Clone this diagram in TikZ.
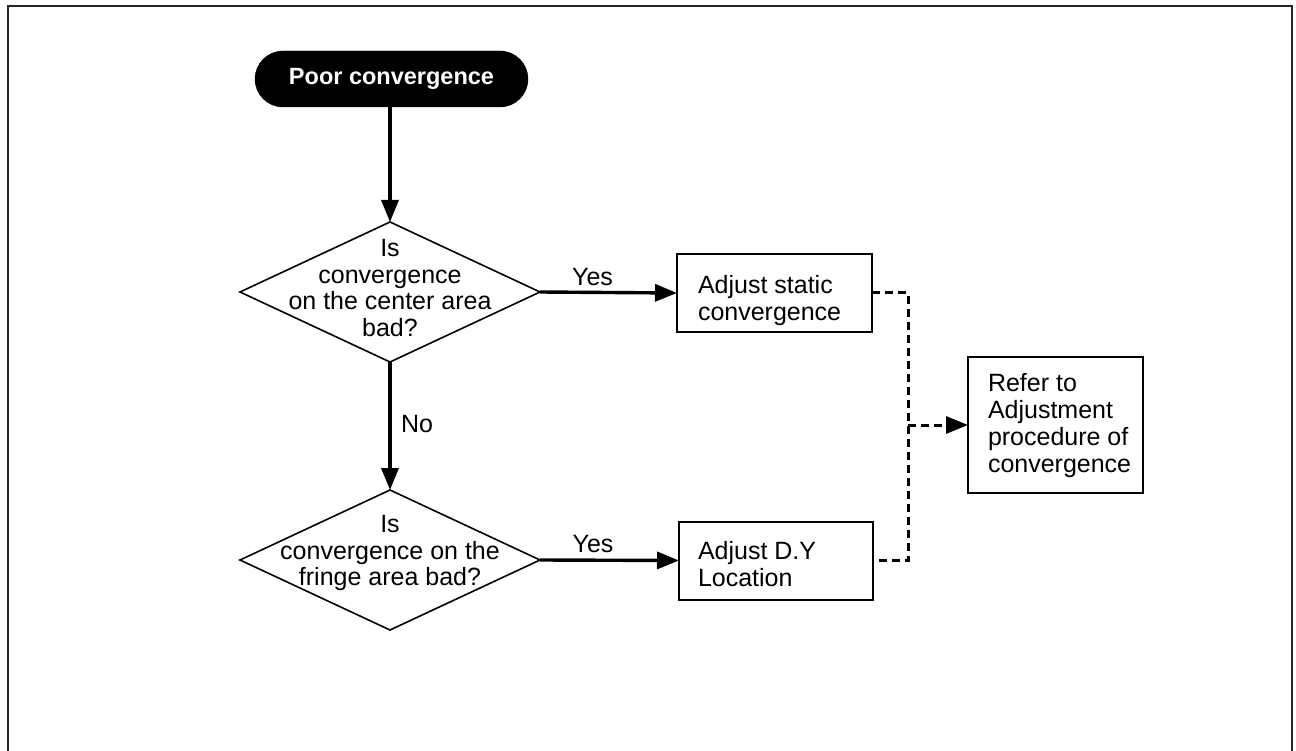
\documentclass[tikz,border=0pt]{standalone}
\usepackage{fontspec}
\setmainfont{Liberation Sans}
\usetikzlibrary{shapes.geometric,arrows.meta}
\begin{document}
\begin{tikzpicture}[x=1pt,y=-1pt,
  every node/.style={font=\fontsize{25}{26.8}\selectfont, inner sep=0pt, outer sep=0pt},
  term/.style={draw=black, fill=black, rounded corners=28pt, minimum width=273pt, minimum height=56pt, text=white, font=\fontsize{23.5}{26}\selectfont\bfseries},
  decision/.style={diamond, draw=black, line width=1.6pt, minimum width=300pt, minimum height=140pt},
  txt/.style={align=center},
  boxtxt/.style={align=left, anchor=west},
  procbox/.style={draw=black, line width=2pt, minimum width=195pt, minimum height=78pt},
  flow/.style={line width=3.4pt, -{Triangle[length=22pt,width=17pt]}},
  dashline/.style={line width=3pt, dash pattern=on 8pt off 5pt},
  dasharrow/.style={dashline, -{Triangle[length=22pt,width=17pt]}}
]
\useasboundingbox (0,0) rectangle (1296,751);
\fill[white] (0,0) rectangle (1296,751);
\draw[line width=1.8pt, draw=black!85] (8,770) -- (8,6) -- (1292,6) -- (1292,770);

\node[term] (start) at (391.5,79) {Poor convergence};
\node[decision] (d1) at (390,292) {};
\node[txt] (d1t) at (390,288) {Is\\convergence\\on the center area\\bad?};
\node[decision] (d2) at (390,560) {};
\node[txt] (d2t) at (390,553) {Is\\convergence on the\\fringe area bad?};
\node[procbox] (b1) at (774.5,293) {};
\node[boxtxt] (b1t) at (698,300.5) {Adjust static\\convergence};
\node[procbox, minimum width=194pt] (b2) at (776,560.5) {};
\node[boxtxt] (b2t) at (698,564) {Adjust D.Y\\Location};
\node[procbox, minimum width=175pt, minimum height=136pt] (b3) at (1055.5,425) {};
\node[boxtxt] (b3t) at (988,425.5) {Refer to\\Adjustment\\procedure of\\convergence};
\coordinate (jn) at (908,425);

\node (y1) at (592.5,277) {Yes};
\node (y2) at (593,544) {Yes};
\node (no) at (417,424) {No};

\draw[flow] (start.south -| d1.north) -- (d1.north);
\draw[flow] (d1.south) -- (d2.north);
\draw[flow] (d1.east) -- (b1.west);
\draw[flow] (d2.east) -- (b2.west);
\draw[dashline] (b1.east) -| (jn) |- (b2.east);
\draw[dasharrow] (jn) -- (b3.west);
\end{tikzpicture}
\end{document}
